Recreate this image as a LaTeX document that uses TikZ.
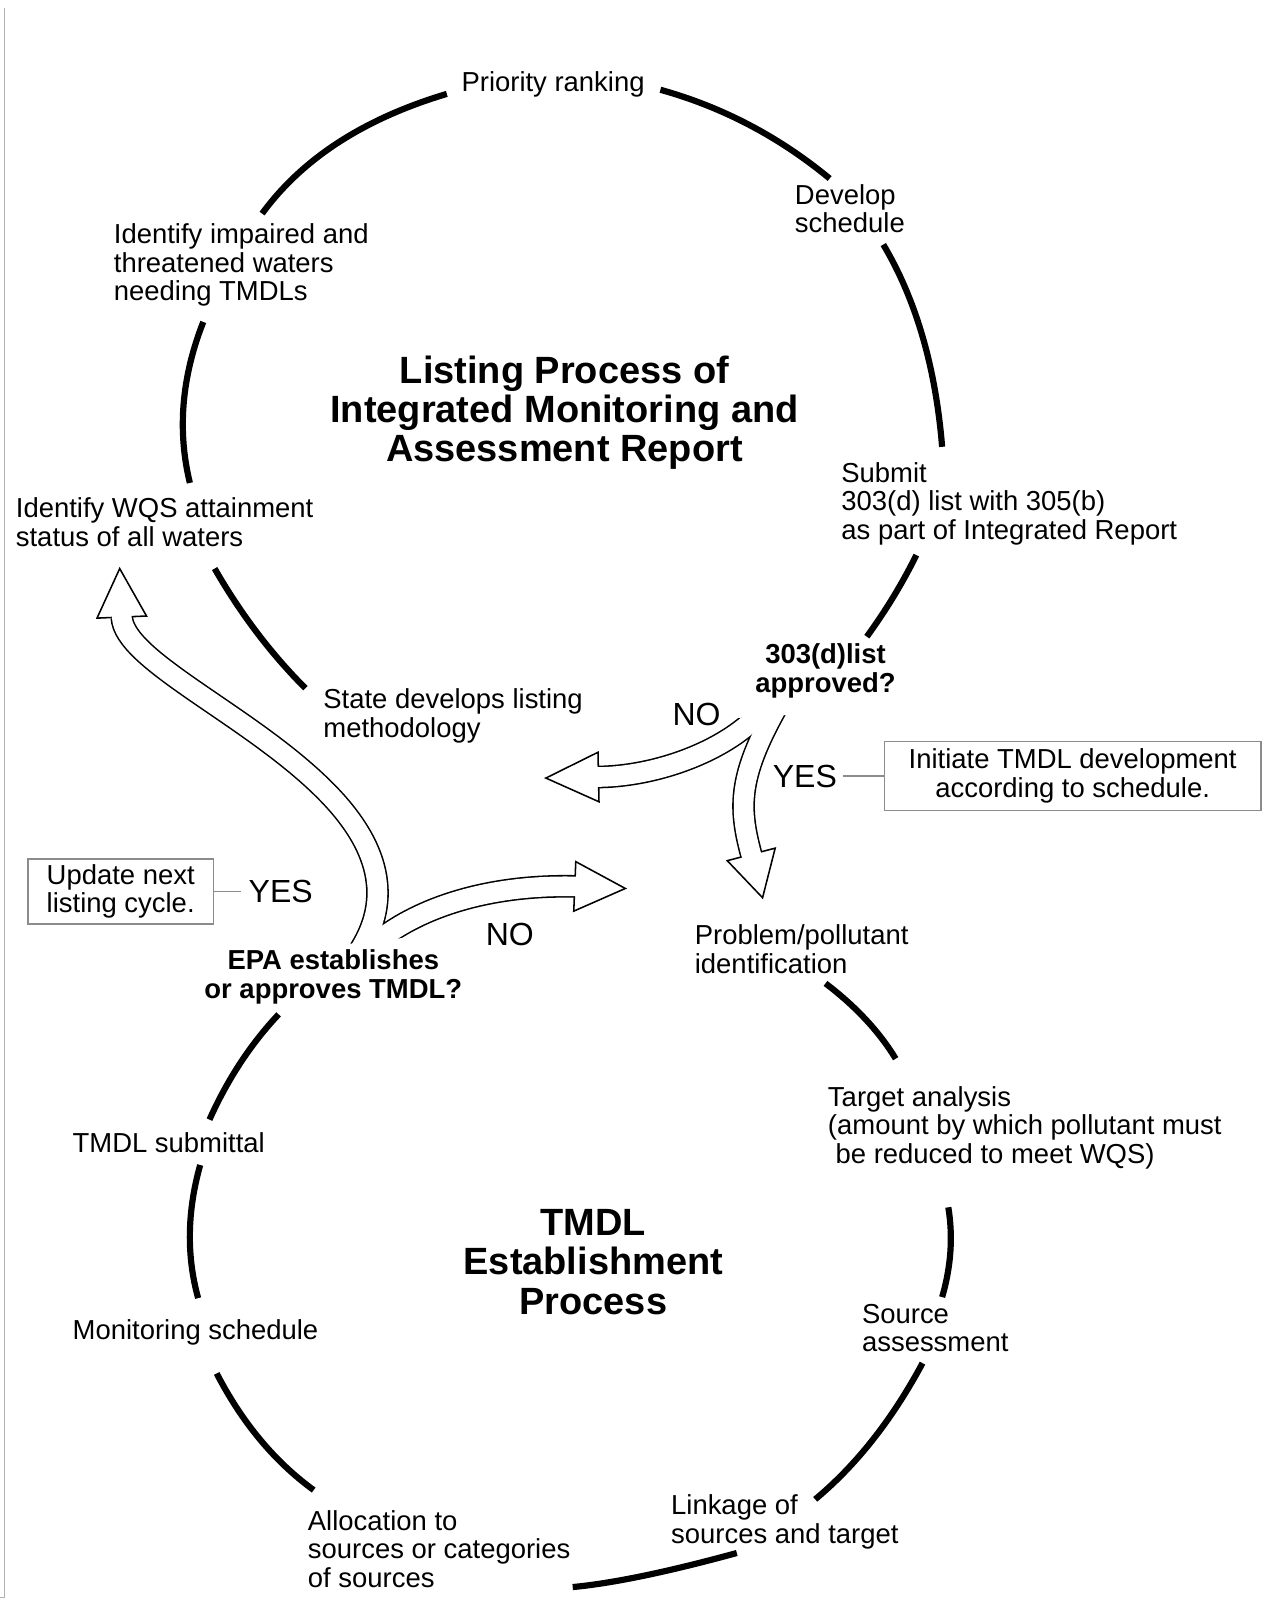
\documentclass[tikz,border=0pt]{standalone}
\usepackage{fontspec}
\setmainfont{Liberation Sans}
\usetikzlibrary{calc}

% one thick bend of a cycle, from #1 through #2 to #3
\newcommand{\ringarc}[3]{\draw[ring] #1 .. controls ($4/3*#2-1/3*#3$) and ($4/3*#2-1/3*#1$) .. #3;}

\begin{document}
\begin{tikzpicture}[x=0.5pt,y=-0.5pt,
    stage/.style={font=\fontsize{13.3}{13.8}\selectfont,inner sep=0pt,align=left,anchor=west},
    query/.style={font=\bfseries\fontsize{13.3}{14.2}\selectfont,inner sep=0pt,align=center},
    heading/.style={font=\bfseries\fontsize{18.4}{19}\selectfont,inner sep=0pt,align=center},
    reply/.style={font=\fontsize{15.5}{16}\selectfont,inner sep=0pt},
    note/.style={draw=black!45,line width=0.75pt,font=\fontsize{13.3}{13.8}\selectfont,inner sep=0pt},
    link/.style={draw=black!45,line width=0.75pt},
    ring/.style={line width=3pt},
    rim/.style={line width=11pt},
    core/.style={line width=9.5pt,white},
    tipbox/.style={draw,fill=white,line width=0.75pt,line join=miter}]
    \useasboundingbox (0,0) rectangle (1224,1568);
    \draw[black!30,line width=0.8pt] (4.4,8) -- (4.4,1548) -- (0,1548);

    % Listing cycle %
    \ringarc{(433,91)}{(328,138)}{(254,207)}
    \ringarc{(640,87)}{(726,121)}{(804,173)}
    \ringarc{(856,237)}{(894,326)}{(913,433)}
    \ringarc{(888,538)}{(866,578)}{(840,617)}
    \ringarc{(197,312)}{(178,391)}{(184,468)}
    \ringarc{(208,551)}{(249,613)}{(296,667)}

    % TMDL cycle %
    \ringarc{(800,953)}{(839,988)}{(868,1026)}
    \ringarc{(919,1170)}{(921,1213)}{(913,1257)}
    \ringarc{(894,1321)}{(846,1395)}{(790,1453)}
    \ringarc{(714,1505)}{(624,1527)}{(555,1538)}
    \ringarc{(210,1331)}{(252,1395)}{(304,1444)}
    \ringarc{(194,1129)}{(184,1195)}{(192,1258)}
    \ringarc{(270,983)}{(233,1030)}{(203,1085)}

    % Decision arrows %
    \coordinate (listNoS) at (745,680);
    \coordinate (listNoB) at (580,753);
    \coordinate (listNoT) at (529,754);
    \coordinate (listYesS) at (756,680);
    \coordinate (listYesB) at (728,828);
    \coordinate (listYesT) at (739,870);
    \coordinate (tmdlYesS) at (349,920);
    \coordinate (tmdlYesM) at (313,764);
    \coordinate (tmdlYesB) at (118,598);
    \coordinate (tmdlYesT) at (116,551);
    \coordinate (tmdlNoS) at (365,913);
    \coordinate (tmdlNoB) at (557,859);
    \coordinate (tmdlNoT) at (606,861);

    \draw[rim] (listNoS) .. controls (718,721) and (645,752) .. (listNoB);
    \draw[rim] (listYesS) .. controls (716,750) and (715,780) .. (listYesB);
    \draw[rim] (tmdlYesS) .. controls (379,872) and (370,820) .. (tmdlYesM) .. controls (240,692) and (120,640) .. (tmdlYesB);
    \draw[rim] (tmdlNoS) .. controls (400,884) and (465,857) .. (tmdlNoB);
    \foreach \a in {listNo,listYes,tmdlYes,tmdlNo}
        \draw[tipbox] (\a T) -- ($(\a B)!12pt!90:(\a T)$) -- ($(\a B)!12pt!-90:(\a T)$) -- cycle;
    \draw[core] (listNoS) .. controls (718,721) and (645,752) .. (listNoB) -- ($(listNoB)!1pt!(listNoT)$);
    \draw[core] (listYesS) .. controls (716,750) and (715,780) .. (listYesB) -- ($(listYesB)!1pt!(listYesT)$);
    \draw[core] (tmdlYesS) .. controls (379,872) and (370,820) .. (tmdlYesM) .. controls (240,692) and (120,640) .. (tmdlYesB) -- ($(tmdlYesB)!1pt!(tmdlYesT)$);
    \draw[core] (tmdlNoS) .. controls (400,884) and (465,857) .. (tmdlNoB) -- ($(tmdlNoB)!1pt!(tmdlNoT)$);
    % open tails %
    \fill[white] (333,915.4) -- (400,907.9) -- (400,935) -- (333,935) -- cycle;
    \fill[white] (712,695.9) -- (772,692.3) -- (772,664) -- (712,664) -- cycle;

    % Labels %
    \node[stage,anchor=center] (prio) at (536,82) {Priority ranking};
    \node[stage] (sched) at (770,202) {Develop\\schedule};
    \node[stage] (impaired) at (110,257) {Identify impaired and\\threatened waters\\needing TMDLs};
    \node[heading] (listing) at (547,400) {Listing Process of\\Integrated Monitoring and\\Assessment Report};
    \node[stage] (submit) at (815,488) {Submit\\303(d) list with 305(b)\\as part of Integrated Report};
    \node[stage] (attain) at (15,506) {Identify WQS attainment\\status of all waters};
    \node[query] (approved) at (800,650) {303(d)list\\approved?};
    \node[stage] (method) at (313,694) {State develops listing\\methodology};
    \node[reply] (listno) at (675,692) {NO};
    \node[reply] (listyes) at (780,752) {YES};
    \node[note,align=center,minimum width=182.5pt,minimum height=33.5pt] (initiate) at (1039.5,752) {Initiate TMDL development\\according to schedule.};
    \node[note,align=left,minimum width=90pt,minimum height=31.5pt] (update) at (117,864) {Update next\\listing cycle.};
    \node[reply] (tmdlyes) at (272,864) {YES};
    \node[reply] (tmdlno) at (494,906) {NO};
    \node[query] (epa) at (323,947) {EPA establishes\\or approves TMDL?};
    \node[stage] (problem) at (673,920) {Problem/pollutant\\identification};
    \node[stage] (target) at (802,1093) {Target analysis\\(amount by which pollutant must\\\hspace*{.28em}be reduced to meet WQS)};
    \node[heading] (tmdl) at (575,1223) {TMDL\\Establishment\\Process};
    \node[stage] (submittal) at (70,1107) {TMDL submittal};
    \node[stage] (monitor) at (70,1291) {Monitoring schedule};
    \node[stage] (source) at (835,1287) {Source\\assessment};
    \node[stage] (alloc) at (298,1501) {Allocation to\\sources or categories\\of sources};
    \node[stage] (linkage) at (650,1475) {Linkage of\\sources and target};

    \draw[link,shorten <=3pt] (listyes) -- (initiate);
    \draw[link,shorten >=3.5pt] (update) -- (tmdlyes);
\end{tikzpicture}
\end{document}
